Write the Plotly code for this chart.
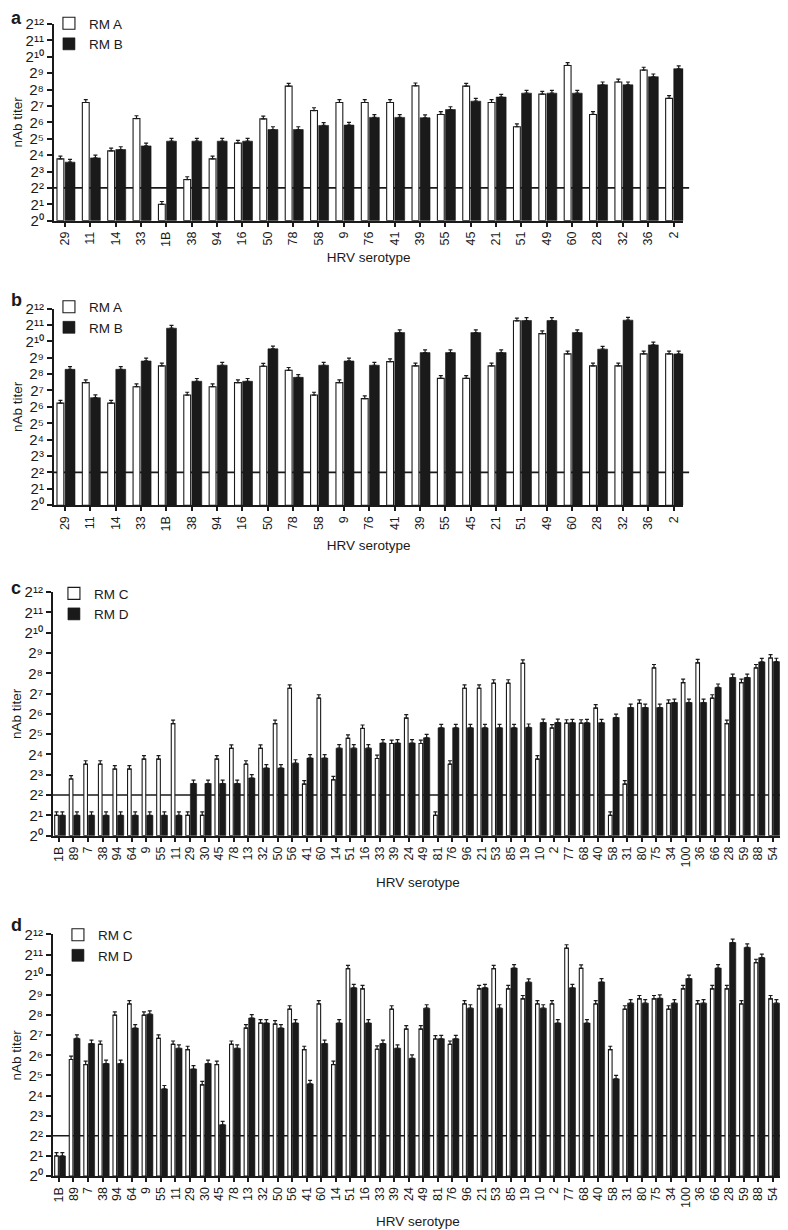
import plotly.graph_objects as go

# ---------------- data (log2 nAb titer exponents) ----------------
cats_ab = ["29", "11", "14", "33", "1B", "38", "94", "16", "50", "78", "58", "9", "76",
           "41", "39", "55", "45", "21", "51", "49", "60", "28", "32", "36", "2"]
a_rmA = [3.77, 7.21, 4.26, 6.23, 1.0, 2.51, 3.77, 4.73, 6.21, 8.21, 6.72, 7.21, 7.21,
         7.21, 8.23, 6.48, 8.21, 7.21, 5.73, 7.72, 9.47, 6.48, 8.46, 9.19, 7.46]
a_rmB = [3.57, 3.83, 4.34, 4.56, 4.85, 4.85, 4.85, 4.85, 5.56, 5.56, 5.81, 5.83, 6.30,
         6.30, 6.28, 6.78, 7.29, 7.54, 7.78, 7.78, 7.78, 8.29, 8.29, 8.78, 9.27]
b_rmA = [6.23, 7.48, 6.23, 7.23, 8.50, 6.72, 7.23, 7.48, 8.48, 8.23, 6.72, 7.48, 6.50,
         8.76, 8.50, 7.74, 7.74, 8.50, 11.25, 10.47, 9.23, 8.50, 8.50, 9.23, 9.23]
b_rmB = [8.29, 6.56, 8.29, 8.80, 10.80, 7.56, 8.54, 7.56, 9.54, 7.80, 8.54, 8.80, 8.54,
         10.53, 9.31, 9.31, 10.53, 9.31, 11.27, 11.27, 10.53, 9.52, 11.29, 9.78, 9.23]

cats_cd = ["1B", "89", "7", "38", "94", "64", "9", "55", "11", "29", "30", "45", "78",
           "13", "32", "50", "56", "41", "60", "14", "51", "16", "33", "39", "24", "49",
           "81", "76", "96", "21", "53", "85", "19", "10", "2", "77", "68", "40", "58",
           "31", "80", "75", "34", "100", "36", "66", "28", "59", "88", "54"]
c_rmC = [1.0, 2.79, 3.52, 3.52, 3.28, 3.28, 3.77, 3.77, 5.52, 1.0, 1.0, 3.77, 4.30,
         3.52, 4.30, 5.52, 7.26, 2.54, 6.77, 2.75, 4.79, 5.28, 3.80, 4.54, 5.79, 4.54,
         1.0, 3.52, 7.26, 7.26, 7.51, 7.51, 8.49, 3.77, 5.30, 5.54, 5.54, 6.28, 1.0,
         2.54, 6.52, 8.26, 6.52, 7.54, 8.51, 6.77, 5.52, 7.54, 8.26, 8.75]
c_rmD = [1.0, 1.0, 1.0, 1.0, 1.0, 1.0, 1.0, 1.0, 1.0, 2.57, 2.57, 2.57, 2.57,
         2.84, 3.33, 3.33, 3.57, 3.82, 3.82, 4.31, 4.31, 4.31, 4.56, 4.56, 4.56, 4.82,
         5.31, 5.31, 5.31, 5.31, 5.31, 5.31, 5.33, 5.57, 5.57, 5.56, 5.56, 5.56, 5.82,
         6.31, 6.31, 6.31, 6.56, 6.56, 6.56, 7.30, 7.79, 7.79, 8.56, 8.57]
d_rmC = [1.0, 5.79, 5.54, 6.54, 7.99, 8.55, 7.99, 6.84, 6.54, 6.28, 4.53, 5.54, 6.54,
         7.35, 7.60, 7.55, 8.29, 6.28, 8.55, 5.54, 10.30, 9.30, 6.30, 8.29, 7.30, 7.30,
         6.81, 6.54, 8.55, 9.30, 10.30, 9.30, 8.80, 8.55, 8.55, 11.32, 10.32, 8.55, 6.28,
         8.29, 8.80, 8.80, 8.29, 9.30, 8.55, 9.30, 9.30, 8.55, 10.60, 8.80]
d_rmD = [1.0, 6.84, 6.58, 5.59, 5.59, 7.35, 8.04, 4.33, 6.35, 5.32, 5.59, 2.55, 6.35,
         7.85, 7.60, 7.35, 7.60, 4.58, 6.58, 7.60, 9.35, 7.60, 6.58, 6.35, 5.85, 8.34,
         6.82, 6.82, 8.34, 9.35, 8.34, 10.33, 9.63, 8.34, 7.60, 9.35, 7.60, 9.64, 4.83,
         8.59, 8.59, 8.83, 8.59, 9.81, 8.59, 10.33, 11.60, 11.36, 10.85, 8.59]

ERR = 0.17          # upper SEM cap (log2 units)
THRESHOLD = 2       # detection limit 2^2
y_exponents = list(range(0, 13))
SUP = str.maketrans("0123456789", "\u2070\u00b9\u00b2\u00b3\u2074\u2075\u2076\u2077\u2078\u2079")
y_ticktext = ["2" + str(e).translate(SUP) for e in y_exponents]

# ---------------- figure ----------------
W, H = 788, 1230
FONT = "Arial, Liberation Sans, sans-serif"
INK = "#1a1a1a"

# page-pixel -> paper fraction (compensates page offset seen in the render)
OFF_X, OFF_Y, H_EFF = 8.0, 15.0, 1213.0


def fx(px):
    return (px - OFF_X) / W


def fy(py):
    return 1.0 - (py - OFF_Y) / H_EFF


fig = go.Figure()

panels = [
    dict(letter="a", cats=cats_ab, w=a_rmA, k=a_rmB, names=("RM A", "RM B"),
         x0=53, x1=683, ytop=20, ybot=217, xr=(-0.43, 24.38), line_end=689,
         wo=-0.31, ww=0.27, ko=0.01, kw=0.39, leg=(48, 4), standoff=7),
    dict(letter="b", cats=cats_ab, w=b_rmA, k=b_rmB, names=("RM A", "RM B"),
         x0=53, x1=683, ytop=305, ybot=502, xr=(-0.43, 24.38), line_end=689,
         wo=-0.31, ww=0.27, ko=0.01, kw=0.39, leg=(48, 288), standoff=10),
    dict(letter="c", cats=cats_cd, w=c_rmC, k=c_rmD, names=("RM C", "RM D"),
         x0=52, x1=783, ytop=589, ybot=833, xr=(-0.41, 49.69), line_end=787,
         wo=-0.29, ww=0.25, ko=0.02, kw=0.43, leg=(53, 575), standoff=11),
    dict(letter="d", cats=cats_cd, w=d_rmC, k=d_rmD, names=("RM C", "RM D"),
         x0=52, x1=783, ytop=932, ybot=1174, xr=(-0.41, 49.69), line_end=788,
         wo=-0.29, ww=0.25, ko=0.02, kw=0.43, leg=(57, 917), standoff=10),
]

letter_pos = {"a": (8, 14), "b": (8, 296), "c": (8, 585), "d": (8, 922)}

for i, p in enumerate(panels):
    n = i + 1
    xs = "" if n == 1 else str(n)
    xa, ya = "x" + xs, "y" + xs
    legname = "legend" if n == 1 else "legend%d" % n
    nn = len(p["cats"])

    fig.add_trace(go.Bar(
        x=p["cats"], y=p["w"], name=p["names"][0], xaxis=xa, yaxis=ya,
        offset=p["wo"], width=p["ww"], legend=legname,
        marker=dict(color="white", line=dict(color=INK, width=1.1)),
        error_y=dict(type="data", symmetric=False, array=[ERR] * nn,
                     arrayminus=[0] * nn, color=INK, thickness=1.2, width=2),
    ))
    fig.add_trace(go.Bar(
        x=p["cats"], y=p["k"], name=p["names"][1], xaxis=xa, yaxis=ya,
        offset=p["ko"], width=p["kw"], legend=legname,
        marker=dict(color=INK, line=dict(color=INK, width=0.6)),
        error_y=dict(type="data", symmetric=False, array=[ERR] * nn,
                     arrayminus=[0] * nn, color=INK, thickness=1.2, width=2),
    ))

    xdom = [fx(p["x0"]), fx(p["x1"])]
    ydom = [fy(p["ybot"]), fy(p["ytop"])]
    fig.layout["xaxis" + xs] = dict(
        domain=xdom, anchor=ya, type="category", categoryorder="array",
        categoryarray=p["cats"], range=list(p["xr"]),
        tickmode="array", tickvals=p["cats"], ticktext=p["cats"],
        tickangle=-90, tickfont=dict(family=FONT, size=12.5, color=INK),
        ticks="outside", ticklen=4, tickwidth=1.5, tickcolor=INK,
        showline=True, linecolor=INK, linewidth=2, showgrid=False, zeroline=False,
        title=dict(text="HRV serotype", font=dict(family=FONT, size=13.5, color=INK),
                   standoff=p["standoff"]),
        fixedrange=True,
    )
    fig.layout["yaxis" + xs] = dict(
        domain=ydom, anchor=xa, range=[0, 12],
        tickmode="array", tickvals=y_exponents, ticktext=y_ticktext,
        tickfont=dict(family=FONT, size=15, color=INK),
        ticks="outside", ticklen=5, tickwidth=2, tickcolor=INK,
        showline=True, linecolor=INK, linewidth=2, showgrid=False, zeroline=False,
        title=dict(text="nAb titer", font=dict(family=FONT, size=13.5, color=INK),
                   standoff=0),
        fixedrange=True,
    )
    # detection threshold line
    fig.add_shape(type="line", xref=xa + " domain", yref=ya,
                  x0=0, x1=(p["line_end"] - p["x0"]) / (p["x1"] - p["x0"]),
                  y0=THRESHOLD, y1=THRESHOLD, layer="below",
                  line=dict(color=INK, width=1.6))
    # legend
    lx, ly = p["leg"]
    fig.layout[legname] = dict(
        x=fx(lx), y=fy(ly), xanchor="left", yanchor="top",
        bgcolor="rgba(0,0,0,0)", borderwidth=0, traceorder="normal",
        font=dict(family=FONT, size=13.5, color=INK), tracegroupgap=0,
        itemclick=False, itemdoubleclick=False,
    )
    # panel letter
    lpx, lpy = letter_pos[p["letter"]]
    fig.add_annotation(text="<b>%s</b>" % p["letter"], xref="paper", yref="paper",
                       x=fx(lpx), y=fy(lpy), xanchor="left", yanchor="middle",
                       showarrow=False, font=dict(family=FONT, size=18, color=INK))

fig.update_layout(
    width=W, height=H, margin=dict(l=0, r=0, t=0, b=0),
    paper_bgcolor="white", plot_bgcolor="white",
    barmode="group", showlegend=True,
    font=dict(family=FONT, color=INK),
)

fig.write_html("out.html")
